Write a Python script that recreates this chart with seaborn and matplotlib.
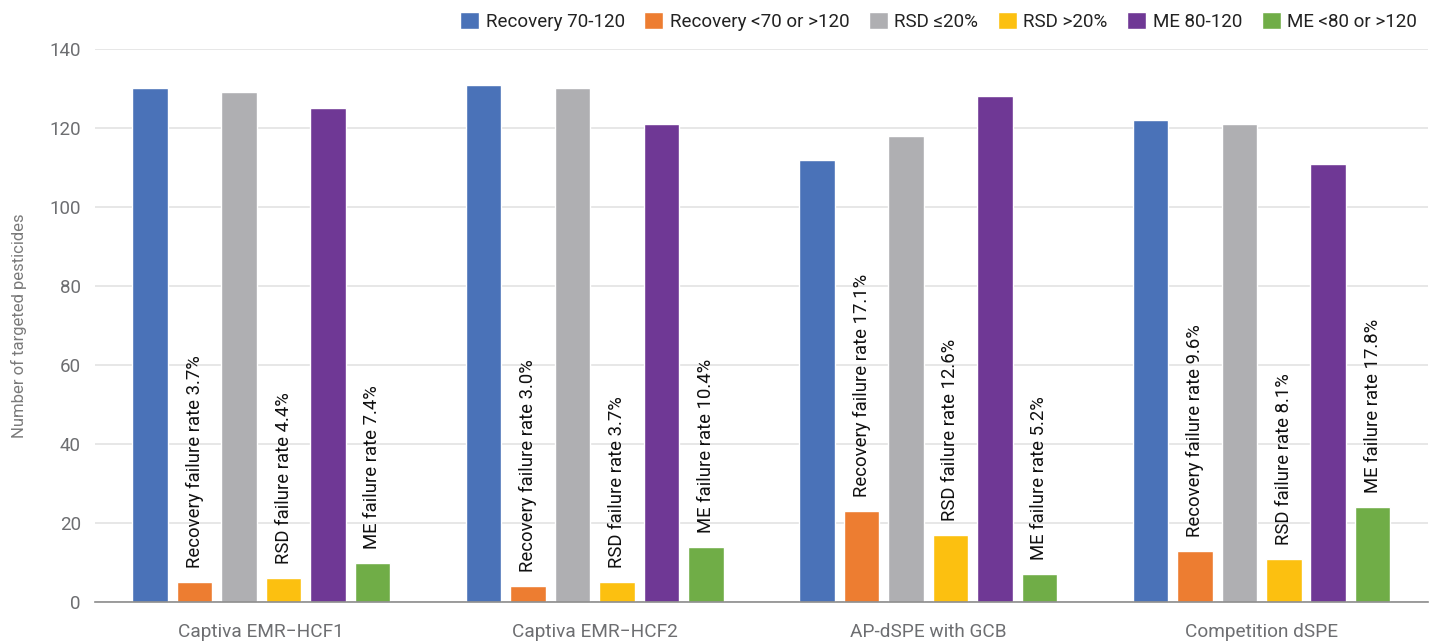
import matplotlib
matplotlib.use("Agg")
import matplotlib.pyplot as plt
import seaborn as sns
import pandas as pd

methods = ["Captiva EMR\u2212HCF1", "Captiva EMR\u2212HCF2", "AP-dSPE with GCB", "Competition dSPE"]
series = ["Recovery 70-120", "Recovery <70 or >120", "RSD \u226420%", "RSD >20%", "ME 80-120", "ME <80 or >120"]

recovery_pass = [130, 131, 112, 122]
recovery_fail = [5, 4, 23, 13]
rsd_pass = [129, 130, 118, 121]
rsd_fail = [6, 5, 17, 11]
me_pass = [125, 121, 128, 111]
me_fail = [10, 14, 7, 24]

recovery_rate = ["3.7%", "3.0%", "17.1%", "9.6%"]
rsd_rate = ["4.4%", "3.7%", "12.6%", "8.1%"]
me_rate = ["7.4%", "10.4%", "5.2%", "17.8%"]

colors = ["#4a72b8", "#ed7d31", "#afafb2", "#fcc010", "#6f3895", "#70ad47"]

values = [recovery_pass, recovery_fail, rsd_pass, rsd_fail, me_pass, me_fail]
rows = []
for s, vals in zip(series, values):
    for m, v in zip(methods, vals):
        rows.append({"method": m, "series": s, "count": v})
df = pd.DataFrame(rows)

sns.set_theme(style="white")
plt.rcParams["font.family"] = ["Roboto", "DejaVu Sans"]

fig = plt.figure(figsize=(14.34, 6.42), dpi=100)
ax = fig.add_axes([0.066, 0.0623, 0.93, 0.8614])

sns.barplot(data=df, x="method", y="count", hue="series", order=methods,
            hue_order=series, palette=colors, width=0.8, gap=0.2,
            saturation=1, errorbar=None, ax=ax, legend=True)

ax.set_ylim(0, 140)
ax.set_yticks(range(0, 141, 20))
ax.set_xlim(-0.5, len(methods) - 0.5)
ax.yaxis.grid(True, color="#e3e3e3", linewidth=1.2)
ax.set_axisbelow(True)
for side in ["left", "right", "top"]:
    ax.spines[side].set_visible(False)
ax.spines["bottom"].set_color("#8c8c8c")
ax.spines["bottom"].set_linewidth(1.2)
ax.tick_params(axis="y", length=0, pad=10, labelsize=13.5, labelcolor="#6d6e71")
ax.tick_params(axis="x", length=0, pad=15, labelsize=13.7, labelcolor="#6d6e71")
ax.set_xlabel("")
ax.set_ylabel("Number of targeted pesticides", fontsize=12, color="#7a7a7a", labelpad=16)

# Rotated failure-rate notes above each failing bar
notes = {1: ("Recovery failure rate", recovery_rate),
         3: ("RSD failure rate", rsd_rate),
         5: ("ME failure rate", me_rate)}
for idx, (prefix, rates) in notes.items():
    container = ax.containers[idx]
    for bar, rate in zip(container, rates):
        cx = bar.get_x() + bar.get_width() / 2
        ax.annotate(f"{prefix} {rate}", xy=(cx, bar.get_height()),
                    xytext=(0, 10), textcoords="offset points",
                    rotation=90, ha="center", va="bottom",
                    fontsize=13.3, color="#111111")

leg = ax.legend(loc="lower right", bbox_to_anchor=(1.0, 1.012), ncol=6,
                frameon=False, fontsize=13.5, handlelength=1.0, handleheight=1.0,
                handletextpad=0.35, columnspacing=1.05, borderaxespad=0.2)
for t in leg.get_texts():
    t.set_color("#222222")

fig.savefig("out.png", dpi=100)
